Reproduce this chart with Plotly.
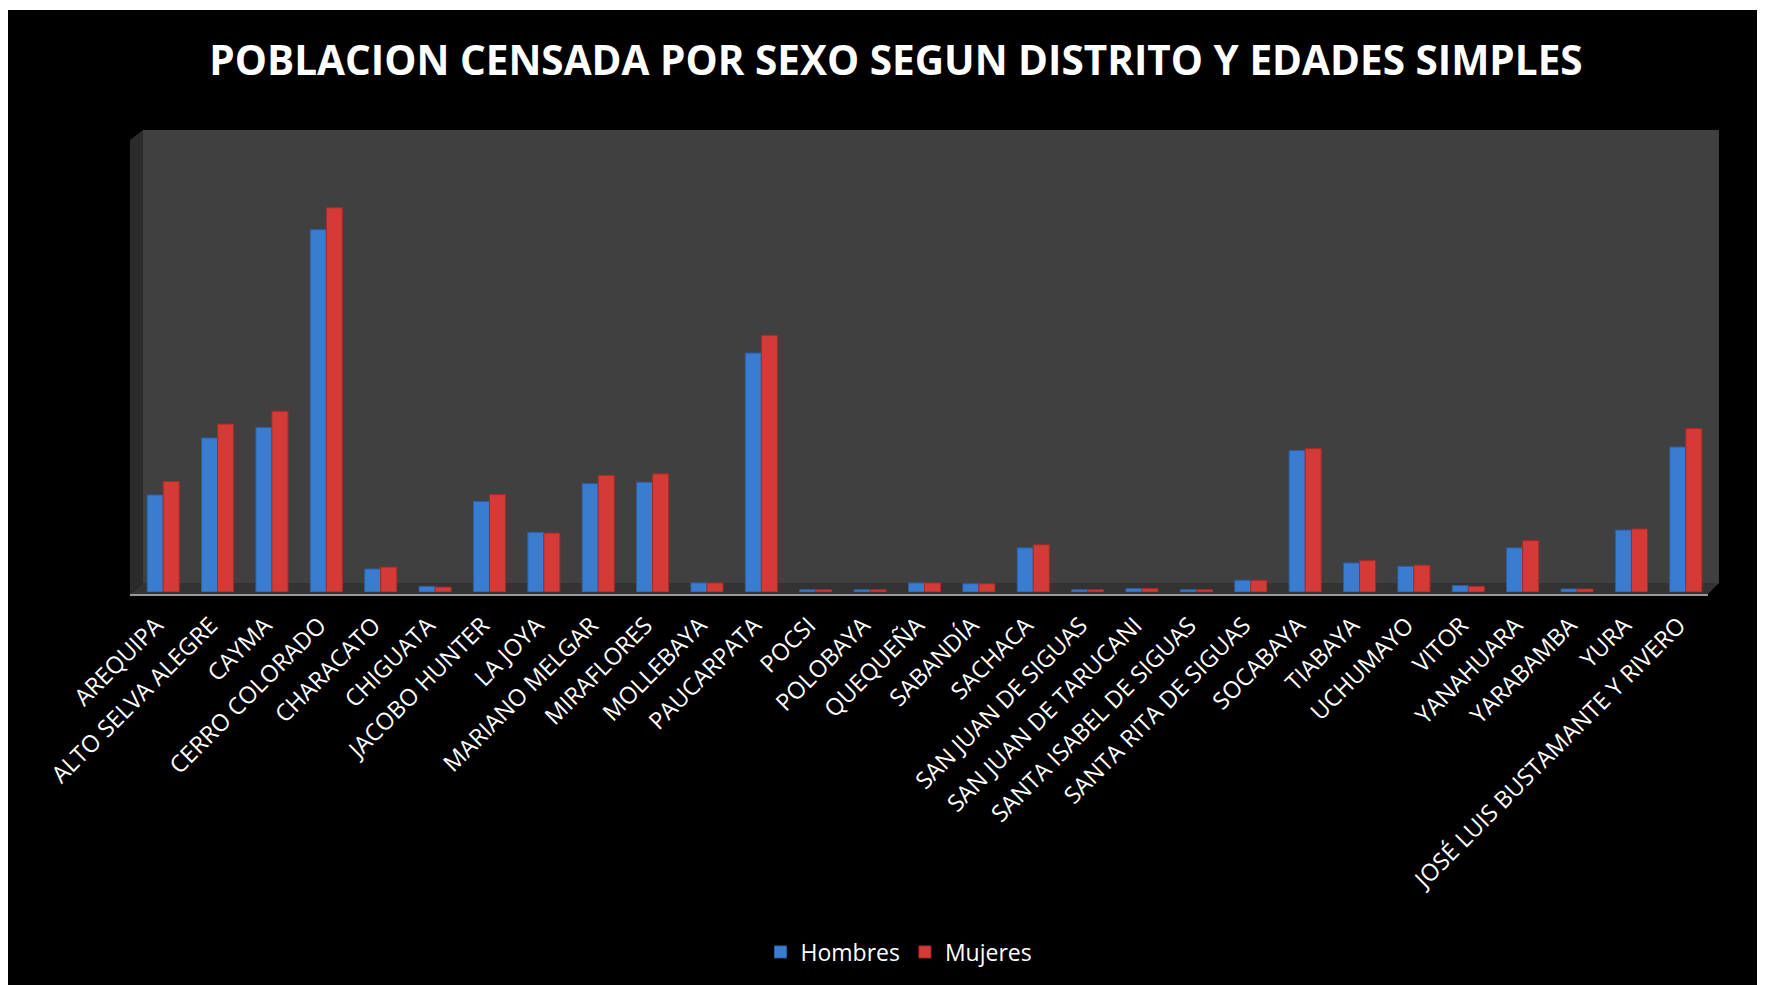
import plotly.graph_objects as go

distritos = [
    "AREQUIPA", "ALTO SELVA ALEGRE", "CAYMA", "CERRO COLORADO", "CHARACATO",
    "CHIGUATA", "JACOBO HUNTER", "LA JOYA", "MARIANO MELGAR", "MIRAFLORES",
    "MOLLEBAYA", "PAUCARPATA", "POCSI", "POLOBAYA", "QUEQUEÑA", "SABANDÍA",
    "SACHACA", "SAN JUAN DE SIGUAS", "SAN JUAN DE TARUCANI",
    "SANTA ISABEL DE SIGUAS", "SANTA RITA DE SIGUAS", "SOCABAYA", "TIABAYA",
    "UCHUMAYO", "VITOR", "YANAHUARA", "YARABAMBA", "YURA",
    "JOSÉ LUIS BUSTAMANTE Y RIVERO",
]
hombres = [
    25700, 40800, 43600, 96000, 6100,
    1500, 24000, 15800, 28700, 29100,
    2400, 63300, 600, 600, 2400, 2200,
    11700, 600, 900,
    600, 3100, 37500, 7700,
    6800, 1700, 11700, 800, 16400,
    38400,
]
mujeres = [
    29300, 44500, 47900, 101800, 6600,
    1300, 25800, 15600, 30900, 31300,
    2400, 68000, 600, 600, 2400, 2200,
    12500, 600, 900,
    600, 3100, 38000, 8300,
    7100, 1500, 13600, 800, 16700,
    43300,
]

# the page body adds an 8px margin on the top and left
OFF = 8
W, H = 1765 - OFF, 985 - OFF
L, R, T, B = 136 - OFF, 1713 - OFF, 130 - OFF, 592 - OFF   # plot area in pixels
YMAX = 122400


def px(x):
    return (x - OFF - L) / (R - L)


def py(y):
    return (B - (y - OFF)) / (B - T)


fig = go.Figure()
fig.add_trace(go.Bar(name="Hombres", x=distritos, y=hombres,
                     marker=dict(color="#3A7DD0", line=dict(color="#2A5FA8", width=1))))
fig.add_trace(go.Bar(name="Mujeres", x=distritos, y=mujeres,
                     marker=dict(color="#D43B36", line=dict(color="#A82A26", width=1))))

shapes = [
    # back wall
    dict(type="rect", xref="paper", yref="paper", x0=px(143), x1=px(1719), y0=py(583), y1=py(130),
         fillcolor="#404040", line=dict(width=0), layer="below"),
    # left side wall
    dict(type="path", xref="paper", yref="paper",
         path=f"M {px(130)},{py(140)} L {px(143)},{py(130)} L {px(143)},{py(583)} L {px(130)},{py(594)} Z",
         fillcolor="#2B2B2B", line=dict(width=0), layer="below"),
    # floor
    dict(type="path", xref="paper", yref="paper",
         path=f"M {px(130)},{py(594)} L {px(143)},{py(583)} L {px(1719)},{py(583)} L {px(1708)},{py(594)} Z",
         fillcolor="#333333", line=dict(width=0), layer="below"),
    # floor front edge
    dict(type="line", xref="paper", yref="paper", x0=px(130), x1=px(1708), y0=py(595), y1=py(595),
         line=dict(color="#9A9A9A", width=2), layer="above"),
    # extra white strip at the top of the picture
    dict(type="rect", xref="paper", yref="paper", x0=px(0), x1=px(1800), y0=py(10), y1=py(6),
         fillcolor="white", line=dict(width=0), layer="above"),
]

fig.update_layout(
    width=W, height=H,
    margin=dict(l=L, r=W - R, t=T, b=H - B, autoexpand=False),
    paper_bgcolor="black",
    plot_bgcolor="black",
    barmode="group",
    bargap=0.41,
    bargroupgap=0.0,
    font=dict(family="Open Sans, sans-serif", color="white"),
    title=dict(
        text="<b>POBLACION CENSADA POR SEXO SEGUN DISTRITO Y EDADES SIMPLES</b>",
        x=px(896), xref="paper", xanchor="center",
        y=1 - (61 - OFF) / H, yref="container", yanchor="middle",
        font=dict(family="Open Sans, sans-serif", size=40.5, color="white"),
    ),
    xaxis=dict(
        tickangle=-45, tickfont=dict(size=23.5, color="white"),
        showgrid=False, showline=False, ticks="", zeroline=False,
        ticklabelstandoff=14, ticklabelshift=-7,
    ),
    yaxis=dict(range=[0, YMAX], visible=False, showgrid=False, zeroline=False),
    legend=dict(
        orientation="h", x=px(899), xanchor="center", y=py(952), yanchor="middle",
        font=dict(size=23, color="white"), bgcolor="rgba(0,0,0,0)",
        itemwidth=30, traceorder="normal",
    ),
    shapes=shapes,
    showlegend=True,
)

fig.write_html("out.html")
